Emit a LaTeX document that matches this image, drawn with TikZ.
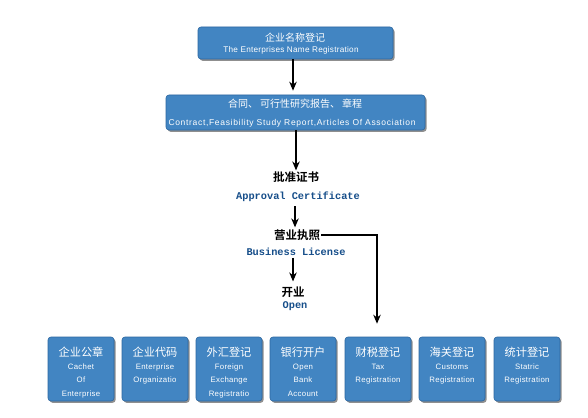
\documentclass[tikz,border=0pt]{standalone}
\usepackage{fontspec}
\setmainfont{Liberation Sans}
\newfontfamily\cjk{Noto Sans CJK SC}
\newfontfamily\cjkb{Noto Sans CJK SC Bold}
\newfontfamily\monob{Liberation Mono}
\usetikzlibrary{shadows,arrows.meta}
\definecolor{boxblue}{RGB}{66,133,194}
\definecolor{boxedge}{RGB}{44,102,160}
\definecolor{labblue}{RGB}{22,78,138}
\tikzset{
  bluebox/.style={draw=boxedge, line width=0.6pt, fill=boxblue, rounded corners=3pt,
    drop shadow={shadow xshift=1.6pt, shadow yshift=-1.8pt, fill=black!55, opacity=0.8},
    inner sep=0pt},
  cntitle/.style={text=white, font=\cjk\fontsize{10}{12}\selectfont, inner sep=0pt},
  entext/.style={text=white, font=\addfontfeature{LetterSpace=3}\fontsize{8.2}{9}\selectfont, inner sep=0pt},
  entextw/.style={text=white, font=\addfontfeature{LetterSpace=8}\fontsize{8.5}{9}\selectfont, inner sep=0pt},
  btitle/.style={text=white, font=\cjk\fontsize{11.2}{12}\selectfont, inner sep=0pt},
  btext/.style={text=white, font=\addfontfeature{LetterSpace=4}\fontsize{7.8}{13.6}\selectfont, align=center, inner sep=0pt, anchor=north},
  cnlab/.style={font=\cjkb\fontsize{11.5}{13}\selectfont, inner sep=0pt},
  enlab/.style={text=labblue, font=\monob\bfseries\fontsize{10.3}{12}\selectfont, inner sep=0pt},
  flow/.style={-{Stealth[length=9pt,width=7.5pt]}, line width=1.2pt, black}
}
\begin{document}
\begin{tikzpicture}[x=1pt,y=-1pt]
\useasboundingbox[fill=white] (0,0) rectangle (588,417);
% top boxes
\node[bluebox, minimum width=195pt, minimum height=32pt] (top) at (295.5,43) {};
\node[cntitle] (topcn) at (295,37.5) {企业名称登记};
\node[entext] (topen) at (291,50.5) {The Enterprises Name Registration};
\node[bluebox, minimum width=259pt, minimum height=35pt] (sec) at (295.5,112.5) {};
\node[cntitle] (seccn) at (295,103.5) {合同、\hspace{2pt}可行性研究报告、\hspace{2pt}章程};
\node[entextw] (secen) at (292,123) {Contract,Feasibility Study Report,Articles Of Association};
% middle labels
\node[cnlab] (appcn) at (296,177) {批准证书};
\node[enlab] (appen) at (298,197) {Approval Certificate};
\node[cnlab] (liccn) at (297,235) {营业执照};
\node[enlab] (licen) at (296,252) {Business License};
\node[cnlab] (opcn) at (293,292) {开业};
\node[enlab] (open) at (295,306) {Open};
% bottom boxes
\foreach \i/\cx/\cn/\en in {
  1/81/企业公章/{Cachet\\Of\\Enterprise},
  2/155/企业代码/{Enterprise\\Organizatio},
  3/229/外汇登记/{Foreign\\Exchange\\Registratio},
  4/303/银行开户/{Open\\Bank\\Account},
  5/378/财税登记/{Tax\\Registration},
  6/452/海关登记/{Customs\\Registration},
  7/527/统计登记/{Statric\\Registration}} {
  \node[bluebox, minimum width=66pt, minimum height=64pt] (b\i) at (\cx,369) {};
  \node[btitle] (b\i cn) at (\cx,352) {\cn};
  \node[btext] (b\i en) at (\cx,363.5) {\en};
}
% connectors
\draw[flow, shorten >=4pt] (top.south -| 293,0) -- (sec.north -| 293,0);
\draw[flow, shorten >=1pt] (sec.south -| appcn.north) -- (appcn.north);
\draw[flow, shorten <=4pt, shorten >=2pt] (appen.south -| 295,0) -- (liccn.north -| 295,0);
\draw[flow, shorten <=2pt, shorten >=5pt] (licen.south -| 293,0) -- (opcn.north -| 293,0);
\coordinate (corner) at (377,0);
\draw[flow, shorten >=13pt] ([xshift=1pt]liccn.east) -- (liccn.east -| corner) -- (corner |- b5.north);
\end{tikzpicture}
\end{document}
